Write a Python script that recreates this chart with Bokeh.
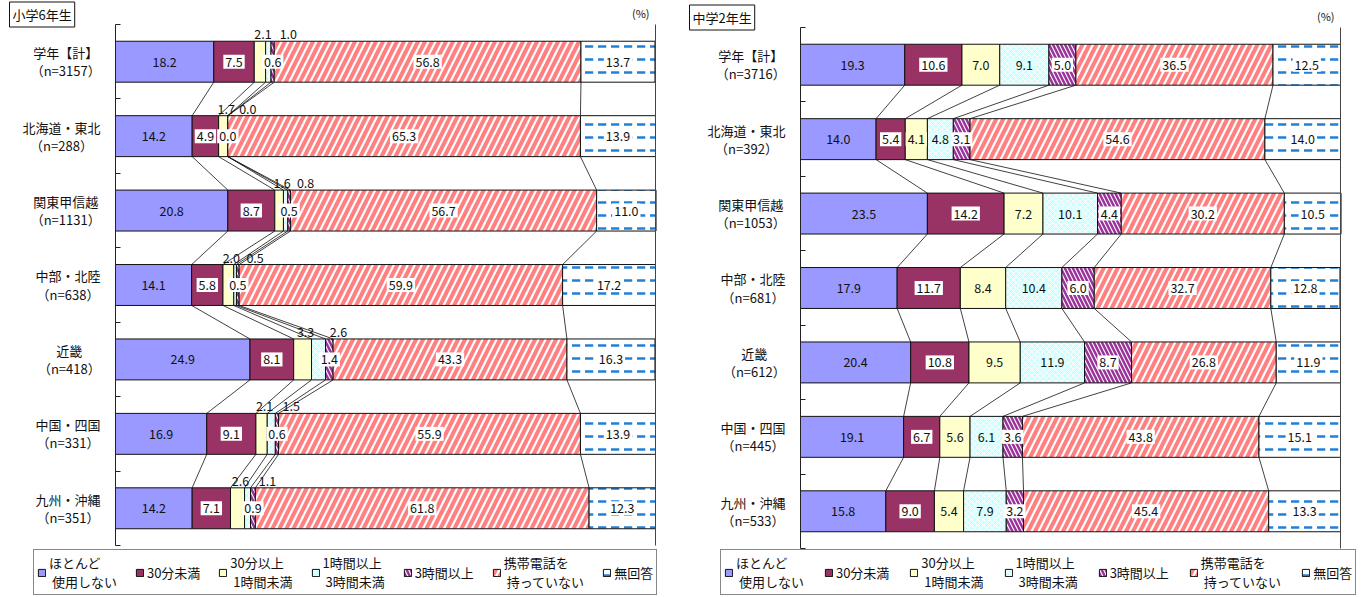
from bokeh.plotting import figure
from bokeh.models import (ColumnDataSource, Range1d, LinearAxis, FixedTicker, Label,
                          Legend, LegendItem)
from bokeh.layouts import row
from bokeh.embed import file_html
from bokeh.resources import INLINE
from bokeh.core.properties import value

FONT = "Noto Sans CJK JP"

series_names = ["ほとんど\n 使用しない", "30分未満", "30分以上\n 1時間未満", "1時間以上\n 3時間未満",
                "3時間以上", "携帯電話を\n 持っていない", "無回答"]

regions = ["学年【計】", "北海道・東北", "関東甲信越", "中部・北陸", "近畿", "中国・四国", "九州・沖縄"]
n_elem = [3157, 288, 1131, 638, 418, 331, 351]
n_jhs = [3716, 392, 1053, 681, 612, 445, 533]

# 小学6年生
elem_hardly = [18.2, 14.2, 20.8, 14.1, 24.9, 16.9, 14.2]
elem_lt30 = [7.5, 4.9, 8.7, 5.8, 8.1, 9.1, 7.1]
elem_30to60 = [2.1, 1.7, 1.6, 2.0, 3.3, 2.1, 2.6]
elem_1to3h = [1.0, 0.0, 0.8, 0.5, 2.6, 1.5, 1.1]
elem_3hplus = [0.6, 0.0, 0.5, 0.5, 1.4, 0.6, 0.9]
elem_nophone = [56.8, 65.3, 56.7, 59.9, 43.3, 55.9, 61.8]
elem_noans = [13.7, 13.9, 11.0, 17.2, 16.3, 13.9, 12.3]

# 中学2年生
jhs_hardly = [19.3, 14.0, 23.5, 17.9, 20.4, 19.1, 15.8]
jhs_lt30 = [10.6, 5.4, 14.2, 11.7, 10.8, 6.7, 9.0]
jhs_30to60 = [7.0, 4.1, 7.2, 8.4, 9.5, 5.6, 5.4]
jhs_1to3h = [9.1, 4.8, 10.1, 10.4, 11.9, 6.1, 7.9]
jhs_3hplus = [5.0, 3.1, 4.4, 6.0, 8.7, 3.6, 3.2]
jhs_nophone = [36.5, 54.6, 30.2, 32.7, 26.8, 43.8, 45.4]
jhs_noans = [12.5, 14.0, 10.5, 12.8, 11.9, 15.1, 13.3]

styles = [
    dict(fill_color="#9999FF"),
    dict(fill_color="#993366"),
    dict(fill_color="#FFFFCC"),
    dict(fill_color="#CCFFFF", hatch_pattern="x", hatch_color="#FFFFFF", hatch_scale=6, hatch_weight=1),
    dict(fill_color="#FFFFFF", hatch_pattern="\\", hatch_color="#993399", hatch_scale=8, hatch_weight=2.5),
    dict(fill_color="#FFFFFF", hatch_pattern="/", hatch_color="#FF8080", hatch_scale=14, hatch_weight=4),
    dict(fill_color="#FFFFFF", hatch_pattern='"', hatch_color="#2080D8", hatch_scale=13, hatch_weight=2.5),
]
label_bg = [None, "#FFFFFF", "#FFFFCC", "#DDFFFF", "#FFFFFF", "#FFFFFF", "#FFFFFF"]

BAR_H = 0.55
HEIGHT = 597


def tw(s, fs=13):
    return sum(fs if ord(c) > 0x2000 else fs * 0.56 for c in s)


def make_chart(title, ns, series, small_above, width, px_left, px_right, px_top, px_bottom,
               legend_x, legend_spacing):
    # frame covers the whole canvas; data x 0..100 maps to px_left..px_right,
    # rows 0..7 map to px_top..px_bottom
    ux = (px_right - px_left) / 100.0
    uy = (px_bottom - px_top) / 7.0
    xr = Range1d(-px_left / ux, 100 + (width - px_right) / ux)
    yr = Range1d(7 + (HEIGHT - px_bottom) / uy, -px_top / uy)
    p = figure(width=width, height=HEIGHT, x_range=xr, y_range=yr,
               x_axis_type=None, y_axis_type=None, toolbar_location=None,
               output_backend="svg", min_border=0, outline_line_color=None,
               background_fill_color="white", border_fill_color="white")

    yax = LinearAxis(ticker=FixedTicker(ticks=[], minor_ticks=list(range(8))), fixed_location=0,
                     bounds=(0, 7), minor_tick_in=5, minor_tick_out=0, major_tick_line_color=None,
                     axis_line_color="#222222", minor_tick_line_color="#222222")
    p.add_layout(yax, "left")
    rax = LinearAxis(ticker=FixedTicker(ticks=[]), fixed_location=100, bounds=(0, 7),
                     minor_tick_line_color=None, major_tick_line_color=None,
                     axis_line_color="#444444")
    p.add_layout(rax, "left")

    nrow = len(regions)
    ys = [i + 0.5 for i in range(nrow)]
    cum = [0.0] * nrow
    lefts, rights = [], []
    renderers = []
    for k, vals in enumerate(series):
        l = cum[:]
        r = [a + b for a, b in zip(cum, vals)]
        lefts.append(l)
        rights.append(r)
        cum = r
        src = ColumnDataSource(dict(y=ys, left=l, right=r))
        rend = p.hbar(y="y", left="left", right="right", height=BAR_H, source=src,
                      line_color="#111111", line_width=1, **styles[k])
        renderers.append(rend)

    # series lines
    x0, y0, x1, y1 = [], [], [], []
    for k in range(len(series) - 1):
        for i in range(nrow - 1):
            x0.append(rights[k][i]); y0.append(ys[i] + BAR_H / 2)
            x1.append(rights[k][i + 1]); y1.append(ys[i + 1] - BAR_H / 2)
    p.segment(x0=x0, y0=y0, x1=x1, y1=y1, line_color="#111111", line_width=0.8)

    # value labels
    for k, vals in enumerate(series):
        xs = [(a + b) / 2 for a, b in zip(lefts[k], rights[k])]
        txt = [f"{v:.1f}" for v in vals]
        if k in small_above:
            off = small_above[k]
            src = ColumnDataSource(dict(x=xs, y=[y - BAR_H / 2 for y in ys], t=txt))
            p.text(x="x", y="y", text="t", source=src, text_align="center", text_baseline="bottom",
                   x_offset=off, y_offset=-2, text_font=value(FONT), text_font_size="12.5px",
                   text_color="#111111")
        else:
            src = ColumnDataSource(dict(x=xs, y=ys, t=txt))
            kw = {}
            if label_bg[k]:
                kw = dict(background_fill_color=label_bg[k], padding=2)
            p.text(x="x", y="y", text="t", source=src, text_align="center", text_baseline="middle",
                   text_font=value(FONT), text_font_size="12.5px", text_color="#111111", **kw)

    # category labels
    for i, (reg, n) in enumerate(zip(regions, ns)):
        sub = f"（n={n}）"
        w = max(tw(reg), tw(sub))
        p.add_layout(Label(x=0, y=ys[i], x_offset=-(15 + w / 2), text=f"{reg}\n{sub}",
                           text_align="center", text_baseline="middle", text_font=FONT,
                           text_font_size="13px", text_line_height=0.95, text_color="#111111"))

    # title box
    p.add_layout(Label(x=0, y=0, x_offset=-px_left + 9, y_offset=10, text=title, text_align="left",
                       text_baseline="middle", text_font=FONT, text_font_size="13px",
                       border_line_color="#111111", border_line_width=1,
                       background_fill_color="white", padding=3, text_color="#111111"))
    p.add_layout(Label(x=100, y=0, x_offset=-6, y_offset=4, text="(%)", text_align="right",
                       text_baseline="bottom", text_font=FONT, text_font_size="11px",
                       text_color="#111111"))

    items = [LegendItem(label=series_names[k], renderers=[renderers[k]]) for k in range(len(series))]
    leg = Legend(items=items, orientation="horizontal", location=(legend_x, 2), margin=0,
                 padding=3, spacing=legend_spacing, glyph_width=9, glyph_height=9, label_standoff=3,
                 label_text_font=FONT, label_text_font_size="13px", label_height=14,
                 label_text_line_height=0.8,
                 border_line_color="#111111", border_line_width=1, background_fill_color="white",
                 label_text_color="#111111")
    p.add_layout(leg)
    return p


p1 = make_chart("小学6年生", n_elem,
                [elem_hardly, elem_lt30, elem_30to60, elem_1to3h, elem_3hplus, elem_nophone, elem_noans],
                {2: 3, 3: 20}, 680, 115, 655, 24, 545, 33, 18)
p2 = make_chart("中学2年生", n_jhs,
                [jhs_hardly, jhs_lt30, jhs_30to60, jhs_1to3h, jhs_3hplus, jhs_nophone, jhs_noans],
                {}, 683, 120, 660, 27, 548, 40, 20)

layout = row(p1, p2)
open("out.html", "w").write(file_html(layout, INLINE))
